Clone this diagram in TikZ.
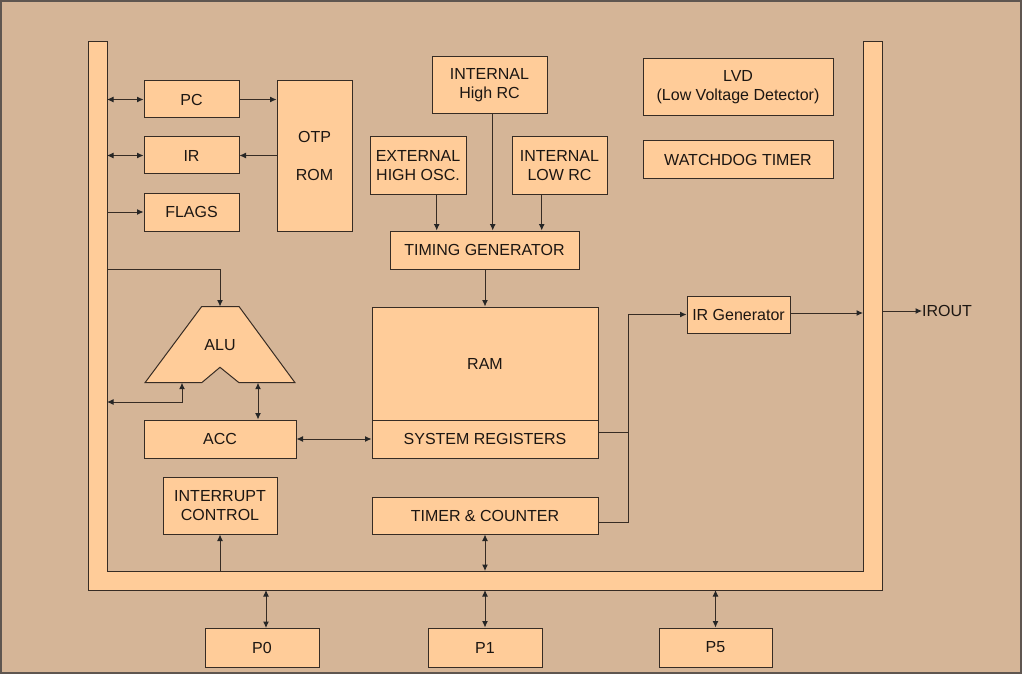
\documentclass[tikz,border=0pt]{standalone}
\usepackage{fontspec}
\setmainfont{Liberation Sans}
\usetikzlibrary{arrows.meta}
\definecolor{bg}{RGB}{213,181,151}
\definecolor{boxfill}{RGB}{255,204,153}
\definecolor{ln}{RGB}{55,44,36}
\definecolor{txt}{RGB}{28,22,18}
\begin{document}
\begin{tikzpicture}[x=1pt,y=-1pt,
  blk/.style={draw=ln, fill=boxfill, line width=1pt, inner sep=0pt, align=center,
    text=txt, font=\fontsize{16}{18.7}\selectfont},
  conn/.style={draw=ln, line width=1pt},
  tip/.tip={Latex[length=6.5pt,width=6pt,color=black!85]},
  ar/.style={conn,-tip},
  dar/.style={conn,tip-tip}]
\useasboundingbox (0,0) rectangle (1024,679);
\fill[white] (0,0) rectangle (1024,679);
\draw[fill=bg, draw=ln!80, line width=1.3pt] (1,1) rectangle (1021,673);

% bus (U shape)
\draw[fill=boxfill, draw=ln, line width=1pt]
  (88,42) -- (88,590) -- (882,590) -- (882,42) -- (863,42) -- (863,571)
  -- (107,571) -- (107,42) -- cycle;
\coordinate (busL) at (107,0);
\coordinate (busR) at (863,0);
\coordinate (busRo) at (882,0);
\coordinate (busB) at (0,571);
\coordinate (busBo) at (0,590);

% boxes
\node[blk, minimum width=95pt, minimum height=37pt] (pc) at (191.5,99.5) {PC};
\node[blk, minimum width=95pt, minimum height=37pt] (ir) at (191.5,155.5) {IR};
\node[blk, minimum width=95pt, minimum height=38pt] (flags) at (191.5,212) {FLAGS};
\node[blk, minimum width=75pt, minimum height=150pt] (rom) at (314.5,156) {OTP\\[19.3pt]ROM};
\node[blk, minimum width=115pt, minimum height=57pt] (ihrc) at (489.5,85.5) {INTERNAL\\High RC};
\node[blk, minimum width=96pt, minimum height=57pt] (ext) at (418,165.5) {EXTERNAL\\HIGH OSC.};
\node[blk, minimum width=95pt, minimum height=57pt] (ilrc) at (559.5,165.5) {INTERNAL\\LOW RC};
\node[blk, minimum width=189pt, minimum height=38pt] (tg) at (484.5,250) {TIMING GENERATOR};
\node[blk, minimum width=190pt, minimum height=57pt] (lvd) at (738,87.5) {LVD\\(Low Voltage Detector)};
\node[blk, minimum width=190pt, minimum height=37pt] (wdt) at (738,159.5) {WATCHDOG TIMER};
\node[blk, minimum width=226pt, minimum height=113pt] (ram) at (485,363.5) {RAM};
\node[blk, minimum width=226pt, minimum height=38pt] (sys) at (485,439) {SYSTEM REGISTERS};
\node[blk, minimum width=152pt, minimum height=38pt] (acc) at (220,439) {ACC};
\node[blk, minimum width=114pt, minimum height=57pt] (int) at (220,505.5) {INTERRUPT\\CONTROL};
\node[blk, minimum width=226pt, minimum height=37pt] (tmr) at (485,515.5) {TIMER \& COUNTER};
\node[blk, minimum width=103pt, minimum height=37pt] (irg) at (738.5,314.5) {IR Generator};
\node[blk, minimum width=114pt, minimum height=39pt] (p0) at (262,647.5) {P0};
\node[blk, minimum width=114pt, minimum height=39pt] (p1) at (485,647.5) {P1};
\node[blk, minimum width=113pt, minimum height=39pt] (p5) at (715.5,647.5) {P5};

% ALU
\draw[fill=boxfill, draw=ln, line width=1pt]
  (201.7,306.5) -- (239,306.5) -- (295,382.7) -- (239,382.7) -- (220,367.3)
  -- (201.7,382.7) -- (145,382.7) -- cycle;
\node[text=txt, font=\fontsize{16}{18.7}\selectfont] (alu) at (220,345) {ALU};
\coordinate (aluT) at (220,306.5);
\coordinate (aluBL) at (182,382.7);
\coordinate (aluBR) at (258,382.7);

% connectors
\draw[dar] (busL |- pc) -- (pc.west);
\draw[ar] (pc.east) -- (rom.west |- pc);
\draw[ar] (rom.west |- ir) -- (ir.east);
\draw[dar] (busL |- ir) -- (ir.west);
\draw[ar] (busL |- flags) -- (flags.west);
\draw[ar] (busL |- 0,269) -- (aluT |- 0,269) -- (aluT);
\draw[dar] (aluBL) -- (aluBL |- 0,402) -- (busL |- 0,402);
\draw[dar] (aluBR) -- (aluBR |- acc.north);
\draw[dar] (acc.east) -- (sys.west);
\draw[ar] (ext.south -| 436.7,0) -- (tg.north -| 436.7,0);
\draw[ar] (ihrc.south -| 492.7,0) -- (tg.north -| 492.7,0);
\draw[ar] (ilrc.south -| 541.7,0) -- (tg.north -| 541.7,0);
\draw[ar] (tg.south -| ram.north) -- (ram.north);
\coordinate (j) at (628,0);
\draw[ar] (sys.east |- 0,432) -- (j |- 0,432) -- (j |- irg) -- (irg.west);
\draw[conn] (tmr.east |- 0,522) -- (j |- 0,522) -- (j |- 0,432);
\draw[ar] (irg.east |- 0,313) -- (busR |- 0,313);
\node[anchor=west, inner sep=0pt, text=txt, font=\fontsize{16}{18.7}\selectfont] (irout) at (922,311) {IROUT};
\draw[ar] (busRo |- 0,311) -- (irout.west);
\draw[ar] (int.south |- busB) -- (int.south);
\draw[dar] (tmr.south) -- (tmr.south |- busB);
\draw[dar] (266,590) -- (266,628);
\draw[dar] (p1.north |- busBo) -- (p1.north);
\draw[dar] (p5.north |- busBo) -- (p5.north);
\end{tikzpicture}
\end{document}
